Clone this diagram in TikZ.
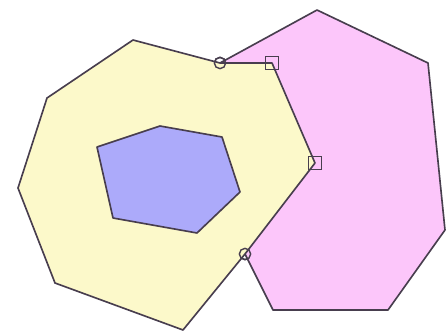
\documentclass[tikz,border=0pt]{standalone}
\usepackage{xcolor}
\usepackage{tikz}
\usetikzlibrary{positioning}

\definecolor{cream}{RGB}{252,249,202}
\definecolor{orchid}{RGB}{252,198,250}
\definecolor{lavender}{RGB}{172,170,250}
\definecolor{rim}{RGB}{72,62,78}

\begin{document}
\begin{tikzpicture}[
    x=0.03cm, y=-0.03cm,
    poly/.style={draw=rim, line width=1.4pt, line join=round},
    entry/.style={circle, draw=rim, line width=1.2pt, inner sep=0pt, minimum size=0.34cm},
    exit/.style={rectangle, draw=rim, line width=1.2pt, inner sep=0pt, minimum size=0.38cm}
]
    \useasboundingbox (0,0) rectangle (446,334);

    % intersection markers
    \node[entry] (in1) at (220,63) {};
    \node[exit] (out1) at (272,63) {};
    \node[exit] (out2) at (315,163) {};
    \node[entry] (in2) at (245,254) {};

    % clip polygon corners
    \coordinate (ptop) at (317,10);
    \coordinate (pne) at (428,63);
    \coordinate (pe) at (445,230);
    \coordinate (pse) at (388,310);
    \coordinate (psw) at (273,310);

    % subject polygon corners
    \coordinate (ytop) at (133,40);
    \coordinate (ybot) at (183,330);
    \coordinate (ysw) at (55,283);
    \coordinate (yw) at (18,188);
    \coordinate (ynw) at (47,98);

    \fill[orchid] (ptop) -- (pne) -- (pe) -- (pse) -- (psw) -- (in2.center)
        -- (out2.center) -- (out1.center) -- (in1.center) -- cycle;
    \draw[poly] (in2.center) -- (psw) -- (pse) -- (pe) -- (pne) -- (ptop) -- (in1.center);

    \draw[poly, fill=cream] (ytop) -- (in1.center) -- (out1.center) -- (out2.center)
        -- (in2.center) -- (ybot) -- (ysw) -- (yw) -- (ynw) -- cycle;

    \draw[poly, fill=lavender] (97,147) -- (160,126) -- (222,137) -- (240,192)
        -- (197,233) -- (113,218) -- cycle;

    % redraw markers on top
    \node[entry] at (in1) {};
    \node[exit] at (out1) {};
    \node[exit] at (out2) {};
    \node[entry] at (in2) {};
\end{tikzpicture}
\end{document}
